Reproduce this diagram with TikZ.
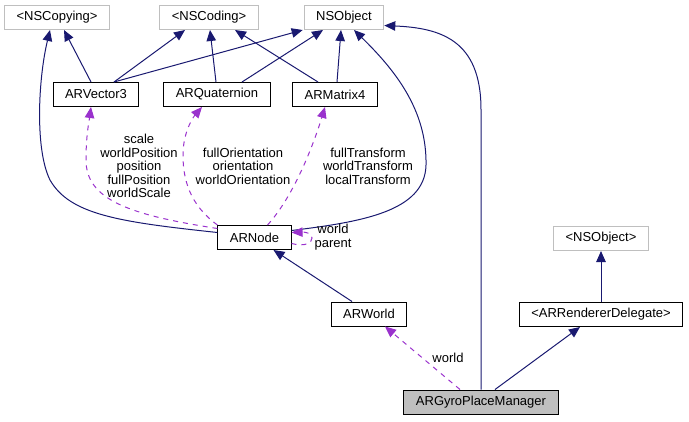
\documentclass[tikz,border=0pt]{standalone}
\usepackage{fontspec}
\setmainfont{Liberation Sans}
\usetikzlibrary{arrows.meta,positioning,calc}

\definecolor{edgeblue}{HTML}{191970}
\definecolor{usepurple}{HTML}{9A32CD}
\definecolor{boxgray}{HTML}{BFBFBF}

\begin{document}
\begin{tikzpicture}[
    x=1pt, y=-1pt,
    font=\fontsize{13}{13.4}\selectfont,
    classbox/.style={
        draw,
        line width=1pt,
        minimum height=24pt,
        inner xsep=12pt,
        inner ysep=0pt,
        fill=white
    },
    extbox/.style={classbox, draw=boxgray},
    mainbox/.style={classbox, fill=boxgray},
    inherit/.style={-{Triangle[length=11pt,width=9.5pt]}, line width=1pt, color=edgeblue},
    uses/.style={-{Triangle[length=11pt,width=9.5pt]}, line width=1pt, color=usepurple, dash pattern=on 5pt off 5pt},
    lbl/.style={align=center, inner sep=0pt}
]
\useasboundingbox (0,0) rectangle (689,421);

\node[extbox] (nscopying) at (57,17.5) {<NSCopying>};
\node[extbox] (nscoding) at (209,17.5) {<NSCoding>};
\node[extbox] (nsobject) at (344,17.5) {NSObject};
\node[classbox] (vector) at (96,94.5) {ARVector3};
\node[classbox] (quaternion) at (217,94.5) {ARQuaternion};
\node[classbox] (matrix) at (335,94.5) {ARMatrix4};
\node[classbox] (arnode) at (254.5,237.5) {ARNode};
\node[classbox] (arworld) at (369,314) {ARWorld};
\node[extbox] (nsobjproto) at (601,238.5) {<NSObject>};
\node[classbox] (delegate) at (601,314.5) {<ARRendererDelegate>};
\node[mainbox] (gyro) at (481,402) {ARGyroPlaceManager};

% inheritance
\draw[inherit] ([xshift=-5pt]vector.north) -- ([xshift=7pt]nscopying.south);
\draw[inherit] ([xshift=18pt]vector.north) -- ([xshift=-24pt]nscoding.south);
\draw[inherit] ([xshift=18pt]vector.north) -- ([xshift=-1pt]nsobject.south west);
\draw[inherit] ([xshift=-1pt]quaternion.north) -- ([xshift=1pt]nscoding.south);
\draw[inherit] ([xshift=25pt]quaternion.north) -- ([xshift=-21pt]nsobject.south);
\draw[inherit] ([xshift=-17pt]matrix.north) -- ([xshift=26pt]nscoding.south);
\draw[inherit] ([xshift=2pt]matrix.north) -- ([xshift=-3pt]nsobject.south);
\draw[inherit] ([yshift=5pt]arnode.west) .. controls (120,222) and (70,215) .. (50,180)
    .. controls (35,150) and (38,80) .. ([xshift=-7pt]nscopying.south);
\draw[inherit] ([yshift=7pt]arnode.east) .. controls (360,222) and (425,212) .. (426,165)
    .. controls (427,110) and (395,70) .. ([xshift=10pt]nsobject.south);
\draw[inherit] (gyro.north) -- ++(0,-280) .. controls ++(0,-70) and (440,28) .. ([yshift=-8pt]nsobject.east);
\draw[inherit] ([xshift=-17pt]arworld.north) -- ([xshift=19pt]arnode.south);
\draw[inherit] (delegate) -- (nsobjproto);
\draw[inherit] ([xshift=14pt]gyro.north) -- ([xshift=-21pt]delegate.south);

% usage
\draw[uses] ([yshift=9pt]arnode.west) .. controls (130,215) and (86,200) .. (86,160)
    .. controls (86,135) and (89,122) .. ([xshift=-5pt]vector.south);
\draw[uses] (arnode.north west) .. controls (190,205) and (183,180) .. (183,155)
    .. controls (183,130) and (195,115) .. ([xshift=-15pt]quaternion.south);
\draw[uses] ([xshift=13pt]arnode.north) .. controls (295,195) and (315,140) .. ([xshift=-10pt]matrix.south);
\draw[uses] ([yshift=-6pt]arnode.east) .. controls (305,247) and (312,243) .. (312,238)
    .. controls (312,233) and (305,232) .. ([yshift=5pt]arnode.east);
\draw[uses] ([xshift=-21pt]gyro.north) -- ([xshift=16pt]arworld.south);

\node[lbl] (vectorlbl) at (139,166) {scale\\worldPosition\\position\\fullPosition\\worldScale};
\node[lbl] (quaternionlbl) at (243,166) {fullOrientation\\orientation\\worldOrientation};
\node[lbl] (matrixlbl) at (368,166) {fullTransform\\worldTransform\\localTransform};
\node[lbl] (looplbl) at (333,237) {world\\parent};
\node[lbl] (worldlbl) at (448,358) {world};

\end{tikzpicture}
\end{document}
